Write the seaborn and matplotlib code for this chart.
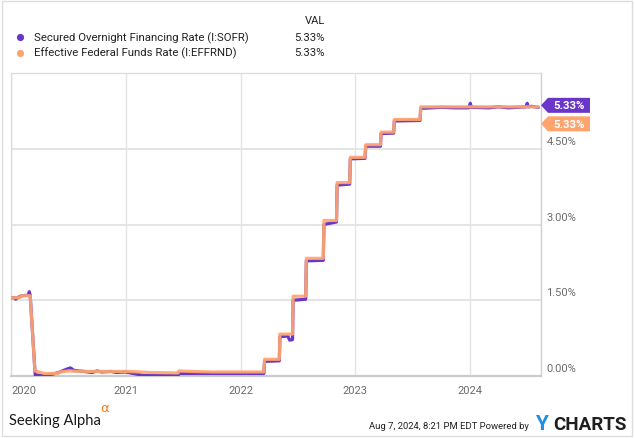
import matplotlib
matplotlib.use("Agg")
import matplotlib.pyplot as plt
from matplotlib.patches import Polygon, Rectangle
from matplotlib.lines import Line2D
import seaborn as sns
import pandas as pd

# ---------------- data ----------------
sofr_dates = ["2020-01-02", "2020-01-14", "2020-01-16", "2020-01-22", "2020-01-31",
              "2020-02-05", "2020-02-26", "2020-02-28", "2020-03-02", "2020-03-18",
              "2020-04-20", "2020-05-15", "2020-06-01", "2020-06-24", "2020-07-08",
              "2020-07-20", "2020-08-20", "2020-09-15", "2020-10-01", "2020-10-15",
              "2020-11-15", "2020-12-01", "2020-12-31", "2021-01-15", "2021-02-10",
              "2021-03-01", "2021-06-16", "2021-06-18", "2022-03-16", "2022-03-18",
              "2022-05-04", "2022-05-06", "2022-05-31", "2022-06-06", "2022-06-15",
              "2022-06-17", "2022-07-27", "2022-07-29", "2022-09-21", "2022-09-23",
              "2022-11-02", "2022-11-04", "2022-12-14", "2022-12-16", "2023-02-01",
              "2023-02-03", "2023-03-22", "2023-03-24", "2023-05-03", "2023-05-05",
              "2023-07-26", "2023-07-28", "2023-09-01", "2023-10-02", "2023-11-15",
              "2023-12-28", "2024-01-02", "2024-01-05", "2024-03-01", "2024-04-01",
              "2024-05-01", "2024-06-27", "2024-07-01", "2024-07-04", "2024-07-15",
              "2024-08-06"]
sofr_values = [1.55, 1.55, 1.52, 1.55, 1.58,
               1.59, 1.60, 1.67, 1.60, 0.02,
               0.01, 0.04, 0.07, 0.13, 0.16,
               0.11, 0.09, 0.07, 0.10, 0.08,
               0.09, 0.07, 0.08, 0.06, 0.03,
               0.01, 0.01, 0.05, 0.05, 0.29,
               0.30, 0.78, 0.79, 0.71, 0.72,
               1.50, 1.52, 2.28, 2.29, 3.00,
               3.05, 3.78, 3.80, 4.30, 4.31,
               4.55, 4.55, 4.80, 4.81, 5.05,
               5.06, 5.30, 5.31, 5.32, 5.31,
               5.31, 5.40, 5.32, 5.31, 5.33,
               5.31, 5.33, 5.40, 5.33, 5.34,
               5.32]

effr_dates = ["2020-01-02", "2020-01-28", "2020-02-03", "2020-03-02", "2020-03-17",
              "2020-03-31", "2020-04-15", "2020-05-28", "2020-06-05", "2020-07-01",
              "2020-09-01", "2021-01-04", "2021-02-15", "2021-03-15", "2021-06-16",
              "2021-06-18", "2021-08-01", "2021-10-01", "2022-03-16", "2022-03-18",
              "2022-05-04", "2022-05-06", "2022-06-15", "2022-06-17", "2022-07-27",
              "2022-07-29", "2022-09-21", "2022-09-23", "2022-11-02", "2022-11-04",
              "2022-12-14", "2022-12-16", "2023-02-01", "2023-02-03", "2023-03-22",
              "2023-03-24", "2023-05-03", "2023-05-05", "2023-07-26", "2023-07-28",
              "2024-08-06"]
effr_values = [1.55, 1.55, 1.59, 1.59, 0.10,
               0.08, 0.05, 0.05, 0.08, 0.10,
               0.09, 0.09, 0.08, 0.07, 0.06,
               0.10, 0.09, 0.08, 0.08, 0.33,
               0.33, 0.83, 0.83, 1.58, 1.58,
               2.33, 2.33, 3.08, 3.08, 3.83,
               3.83, 4.33, 4.33, 4.58, 4.58,
               4.83, 4.83, 5.08, 5.08, 5.33,
               5.33]

series_names = ["Secured Overnight Financing Rate (I:SOFR)",
                "Effective Federal Funds Rate (I:EFFRND)"]
last_values = ["5.33%", "5.33%"]
y_ticks = [0.0, 1.5, 3.0, 4.5]
y_tick_labels = ["0.00%", "1.50%", "3.00%", "4.50%"]
x_years = [2020, 2021, 2022, 2023, 2024]

PURPLE = "#6a36c9"
ORANGE = "#ffa46f"
GRID = "#e4e4e4"
TICK = "#6b6b6b"

df_sofr = pd.DataFrame({"date": pd.to_datetime(sofr_dates), "value": sofr_values})
df_effr = pd.DataFrame({"date": pd.to_datetime(effr_dates), "value": effr_values})

sns.set_style("white")
plt.rcParams["font.family"] = ["Roboto", "DejaVu Sans"]

W, H = 635, 439
fig = plt.figure(figsize=(W / 100, H / 100), dpi=100)
fig.patch.set_facecolor("white")
ax = fig.add_axes([10.7 / W, 1 - 377 / H, 530 / W, 303 / H])

sns.lineplot(data=df_sofr, x="date", y="value", ax=ax, color=PURPLE, lw=2.3,
             zorder=3, sort=False)
sns.lineplot(data=df_effr, x="date", y="value", ax=ax, color=ORANGE, lw=2.3,
             alpha=0.92, zorder=4, sort=False)

ax.set_xlim(pd.Timestamp("2019-12-31"), pd.Timestamp("2024-08-13"))
ax.set_ylim(0, 6.0)
ax.set_xlabel("")
ax.set_ylabel("")

# grid
for yv in y_ticks[1:]:
    ax.axhline(yv, color=GRID, lw=1.4, zorder=1)
for yr in x_years:
    ax.axvline(pd.Timestamp(f"{yr}-01-01"), color=GRID, lw=1.0, zorder=1)

for side in ["top", "left", "right"]:
    ax.spines[side].set_color("#dddddd")
    ax.spines[side].set_linewidth(1.0)
ax.spines["right"].set_color("#cfcfcf")
ax.spines["bottom"].set_color("#cccccc")
ax.spines["bottom"].set_linewidth(1.6)

ax.set_xticks([])
ax.set_yticks([])

# x tick labels
for i, yr in enumerate(x_years):
    ax.annotate(str(yr), xy=(pd.Timestamp(f"{yr}-01-01"), 0),
                xycoords=("data", "axes fraction"),
                xytext=(0, -10.3), textcoords="offset points",
                ha="left" if i == 0 else "center", va="center",
                fontsize=8, color=TICK, annotation_clip=False)

# y tick labels (right side, above the gridline)
for yv, lab in zip(y_ticks, y_tick_labels):
    ax.annotate(lab, xy=(1, yv), xycoords=("axes fraction", "data"),
                xytext=(4, 2), textcoords="offset points",
                ha="left", va="bottom", fontsize=8, color=TICK)

# badges with last values
def badge(ypix_center, color, text):
    x0, xa, x1, h = 541.0, 548.0, 590.0, 7.5
    yc = H - ypix_center
    verts = [(x0, yc), (xa, yc + h), (x1, yc + h), (x1, yc - h), (xa, yc - h)]
    verts = [(vx / W, vy / H) for vx, vy in verts]
    fig.patches.append(Polygon(verts, closed=True, facecolor=color, edgecolor="none",
                               transform=fig.transFigure, figure=fig))
    fig.text((xa + x1) / 2 / W + 0.5 / W, yc / H, text, color="white", fontsize=8.2,
             fontweight="bold", ha="center", va="center")

ypix_last = H - ax.transData.transform((0, float(last_values[0].rstrip("%"))))[1]
badge(ypix_last - 1.5, PURPLE, last_values[0])
badge(ypix_last + 17, ORANGE, last_values[1])

# legend block
fig.text(325 / W, 1 - 21 / H, "VAL", fontsize=8, color="#222222", ha="right", va="center")
for row, (name, val, col) in enumerate(zip(series_names, last_values, [PURPLE, ORANGE])):
    yy = 1 - (38 + row * 15.5) / H
    fig.add_artist(Line2D([20 / W], [yy], marker="o", markersize=5.2, color=col,
                          markeredgewidth=0, transform=fig.transFigure))
    fig.text(34 / W, yy, name, fontsize=8.2, color="#222222", ha="left", va="center")
    fig.text(325 / W, yy, val, fontsize=8.2, color="#222222", ha="right", va="center")

# footer
fig.text(9 / W, 1 - 421 / H, "Seeking Alpha", fontsize=10.6, family="Lato",
         color="#1a1a1a", ha="left", va="center")
fig.text(100 / W, 1 - 409 / H, "α", fontsize=9.5, family="DejaVu Sans",
         color="#ff7a1a", ha="left", va="center")
fig.text(529 / W, 1 - 427 / H, "Aug 7, 2024, 8:21 PM EDT Powered by", fontsize=6.8,
         color="#222222", ha="right", va="center")
fig.text(535 / W, 1 - 425 / H, "Y", fontsize=15, fontweight="bold", color="#1e90e6",
         ha="left", va="center")
fig.text(627 / W, 1 - 425 / H, "CHARTS", fontsize=13.5, fontweight="bold",
         color="#1f1f1f", ha="right", va="center")

# outer border
fig.patches.append(Rectangle((1.5 / W, 2.5 / H), 630.5 / W, 435 / H, transform=fig.transFigure,
                             facecolor="none", edgecolor="#dddddd", lw=1.0, figure=fig))

fig.savefig("out.png", dpi=100)
